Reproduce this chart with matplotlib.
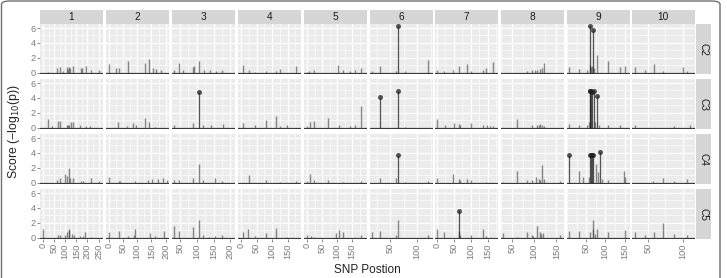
import matplotlib
matplotlib.use("Agg")
import matplotlib.pyplot as plt
from matplotlib.patches import FancyBboxPatch
import numpy as np

plt.rcParams['font.family'] = ['Liberation Sans', 'DejaVu Sans']

# ---------------- data ----------------
columns = ["1", "2", "3", "4", "5", "6", "7", "8", "9", "10"]
rows = ["C2", "C3", "C4", "C5"]
col_xlim = [(-14, 268), (-10, 210), (26, 212), (-10, 192), (-10, 197),
            (13, 128), (-5, 178), (25, 166), (0, 163), (27, 117)]
col_xticks = [[0, 50, 100, 150, 200, 250], [0, 50, 100, 150, 200],
              [50, 100, 150, 200], [0, 50, 100, 150], [0, 50, 100, 150],
              [50, 100], [0, 50, 100, 150], [50, 100, 150], [50, 100, 150],
              [50, 100]]
y_ticks = [0, 2, 4, 6]
threshold = 3.5

# C2: (column index, position, score)
c2_col = [0]*14 + [1]*9 + [2]*10 + [3]*7 + [4]*8 + [5]*6 + [6]*9 + [7]*7 + [8]*13 + [9]*6
c2_pos = [20, 62, 74, 90, 108, 112, 116, 120, 135, 169, 177, 192, 218, 253,
          2, 25, 34, 66, 128, 142, 154, 165, 184,
          32, 48, 58, 88, 91, 107, 120, 139, 156, 176,
          6, 27, 45, 81, 114, 127, 179,
          -1, 8, 23, 103, 118, 144, 160, 180,
          16, 31, 61, 65, 78, 120,
          2, 22, 49, 64, 89, 101, 136, 145, 166,
          83, 95, 102, 107, 112, 117, 121,
          5, 32, 52, 59, 61, 63, 65, 67, 70, 77, 107, 139, 152,
          31, 46, 58, 71, 100, 106]
c2_score = [0.1, 0.6, 0.8, 0.15, 0.7, 0.5, 0.7, 0.6, 0.9, 0.6, 0.6, 0.9, 0.4, 0.4,
            1.2, 0.6, 0.6, 1.5, 1.3, 1.8, 0.6, 0.5, 0.4,
            0.3, 1.3, 0.4, 0.8, 0.9, 1.5, 0.3, 0.3, 0.2, 0.3,
            1.0, 0.3, 0.1, 0.25, 0.2, 0.5, 0.9,
            0.1, 0.2, 0.3, 1.0, 0.3, 0.2, 0.3, 0.6,
            0.2, 0.9, 0.2, 6.27, 0.2, 1.7,
            0.3, 0.2, 0.4, 0.9, 1.1, 0.2, 0.3, 0.6, 1.4,
            0.2, 0.3, 0.4, 0.3, 0.5, 0.6, 1.3,
            0.8, 0.5, 0.4, 1.0, 6.27, 0.8, 0.9, 5.8, 0.6, 2.35, 1.5, 0.8, 0.9,
            0.8, 0.3, 1.1, 0.2, 0.7, 0.2]

c3_col = [0]*12 + [1]*7 + [2]*6 + [3]*6 + [4]*8 + [5]*3 + [6]*10 + [7]*7 + [8]*14 + [9]*3
c3_pos = [20, 39, 65, 74, 108, 112, 116, 128, 135, 166, 192, 212,
          33, 63, 86, 95, 128, 142, 163,
          31, 88, 107, 118, 143, 179,
          7, 45, 81, 114, 127, 147,
          0, 10, 23, 71, 105, 144, 160, 180,
          31.5, 65, 78,
          2, 25, 51, 64, 69, 101, 137, 147, 155, 166,
          61, 95, 106, 110, 112, 117, 123,
          5, 32, 52, 58, 59, 61, 63, 66, 70, 72, 78, 84, 107, 139,
          31, 87, 111]
c3_score = [1.2, 0.2, 0.9, 0.9, 0.4, 0.3, 0.4, 0.8, 0.7, 0.3, 0.2, 0.2,
            0.7, 0.2, 0.6, 0.4, 1.3, 0.7, 0.1,
            0.4, 0.6, 4.84, 0.4, 0.3, 0.5,
            0.6, 0.3, 1.0, 1.5, 0.2, 0.3,
            0.2, 0.7, 0.9, 1.3, 0.4, 0.2, 0.3, 2.84,
            4.1, 4.9, 0.1,
            1.1, 0.3, 0.6, 0.5, 0.3, 0.6, 0.3, 0.3, 0.2, 0.2,
            1.2, 0.4, 0.3, 0.4, 0.5, 0.4, 0.2,
            0.5, 0.3, 0.4, 0.8, 4.9, 4.95, 4.9, 4.85, 4.9, 0.8, 4.2, 0.3, 0.3, 0.4,
            0.4, 0.2, 0.4]

c4_col = [0]*11 + [1]*9 + [2]*7 + [3]*4 + [4]*6 + [5]*5 + [6]*7 + [7]*10 + [8]*15 + [9]*4
c4_pos = [62, 74, 97, 108, 116, 123, 135, 169, 181, 214, 252,
          0, 34, 40, 93, 139, 151, 173, 189, 204,
          32, 48, 88, 107, 118, 155, 175,
          27, 81, 127, 179,
          0, 10, 23, 71, 118, 180,
          31.5, 61, 65, 78, 120,
          2, 49, 64, 69, 89, 101, 145,
          30, 61, 83, 95, 104, 110, 113, 117, 121, 159,
          5, 32, 43, 58, 60.5, 63, 66, 69, 76, 80, 85, 91, 107, 148, 152,
          57, 71, 87, 106]
c4_score = [0.4, 0.6, 1.2, 0.9, 2.0, 0.6, 0.6, 0.2, 0.2, 0.6, 0.2,
            0.8, 0.2, 0.2, 0.2, 0.3, 0.5, 0.5, 0.6, 0.3,
            0.3, 0.3, 0.6, 2.5, 0.3, 0.6, 0.2,
            1.0, 0.3, 0.1, 0.2,
            0.2, 1.2, 0.4, 0.4, 0.1, 0.2,
            0.6, 0.6, 3.73, 0.1, 0.2,
            0.6, 1.2, 0.5, 0.4, 0.5, 0.4, 0.1,
            0.1, 1.55, 0.4, 0.4, 0.7, 0.5, 0.4, 2.4, 0.5, 0.2,
            3.75, 1.6, 0.7, 0.7, 3.7, 3.7, 3.72, 3.7, 2.5, 1.4, 4.15, 0.5, 0.4, 1.5, 0.8,
            0.2, 0.6, 0.2, 0.5]

c5_col = [0]*13 + [1]*8 + [2]*8 + [3]*6 + [4]*7 + [5]*5 + [6]*8 + [7]*10 + [8]*9 + [9]*6
c5_pos = [0, 65, 74, 100, 107, 115, 119, 130, 138, 168, 180, 191, 214,
          0, 36, 67, 87, 93, 144, 164, 193,
          32, 48, 88, 107, 118, 137, 155, 175,
          7, 22, 45, 81, 114, 147,
          0, 14, 23, 95, 105, 118, 180,
          16, 31.5, 61, 65, 120,
          2, 22, 64, 66, 69, 101, 136, 145,
          30, 61, 83, 95, 98, 107, 112, 116, 120, 159,
          5, 32, 60, 67, 69, 74, 78, 107, 150,
          31, 46, 58, 71, 87, 106]
c5_score = [1.2, 0.3, 0.4, 0.3, 0.8, 1.2, 1.0, 0.5, 0.4, 0.2, 0.2, 0.7, 0.1,
            0.8, 0.9, 0.2, 0.3, 1.2, 0.6, 0.2, 0.9,
            1.6, 0.9, 1.4, 2.3, 0.3, 0.1, 0.2, 0.3,
            0.7, 1.2, 0.2, 0.6, 1.3, 0.1,
            0.4, 0.2, 0.1, 0.6, 1.0, 0.7, 0.3,
            0.7, 0.9, 0.4, 2.3, 0.4,
            1.1, 0.8, 3.64, 0.9, 0.3, 0.3, 1.1, 0.2,
            0.6, 0.1, 0.7, 0.3, 0.2, 1.5, 0.8, 0.5, 0.6, 0.3,
            0.9, 0.9, 0.8, 2.3, 1.2, 0.5, 1.1, 0.8, 1.0,
            0.8, 0.3, 0.7, 2.0, 0.5, 0.4]

row_data = [(c2_col, c2_pos, c2_score), (c3_col, c3_pos, c3_score),
            (c4_col, c4_pos, c4_score), (c5_col, c5_pos, c5_score)]

# ---------------- layout ----------------
W, H = 727, 278
fig = plt.figure(figsize=(W / 100, H / 100), dpi=100)

col_left = [40, 106, 172, 238, 304, 370, 435, 501, 567, 632]
panel_w = 62.5
row_top = [24, 79, 134, 189]
panel_h = 50
tick_col = '#7a7a7a'
fs_tick = 6.6

def fig_rect(x, y, w, h):
    return [x / W, 1 - (y + h) / H, w / W, h / H]

for r in range(4):
    cols_r, pos_r, sc_r = row_data[r]
    cols_r = np.array(cols_r); pos_r = np.array(pos_r, float); sc_r = np.array(sc_r, float)
    for c in range(10):
        ax = fig.add_axes(fig_rect(col_left[c], row_top[r], panel_w, panel_h))
        ax.set_facecolor('#EBEBEB')
        for s in ax.spines.values():
            s.set_visible(False)
        xl = col_xlim[c]
        ax.set_xlim(*xl)
        ax.set_ylim(-0.2, 6.55)
        xt = col_xticks[c]
        ax.set_xticks(xt)
        step = 50
        minors = [t for t in np.arange(-100, 400, step / 2) if xl[0] <= t <= xl[1] and t not in xt]
        ax.set_xticks(minors, minor=True)
        ax.set_yticks(y_ticks)
        ax.set_yticks([1, 3, 5], minor=True)
        ax.grid(which='major', color='white', lw=0.9)
        ax.grid(which='minor', color='white', lw=0.45)
        ax.set_axisbelow(True)
        ax.tick_params(which='minor', length=0)
        ax.tick_params(which='major', length=2, width=0.6, color=tick_col,
                       labelcolor=tick_col, labelsize=fs_tick, pad=1)
        if r == 3:
            ax.set_xticklabels([str(t) for t in xt], rotation=90)
        else:
            ax.tick_params(axis='x', length=0, labelbottom=False)
        if c == 0:
            ax.set_yticklabels([str(t) for t in y_ticks])
        else:
            ax.tick_params(axis='y', length=0, labelleft=False)
        # baseline
        ax.axhline(0, color='#3a3a3a', lw=0.9, zorder=2)
        m = cols_r == c
        p = pos_r[m]; s = sc_r[m]
        low = s < threshold
        ax.vlines(p[low], 0, s[low], colors='#404040', lw=1.0, alpha=0.6, zorder=3)
        ax.vlines(p[~low], 0, s[~low], colors='#202020', lw=0.9, alpha=0.75, zorder=3)
        ax.plot(p[~low], s[~low], 'o', color='#202020', alpha=0.75, ms=3.6,
                mec='none', zorder=4)

# top strips
for c in range(10):
    sax = fig.add_axes(fig_rect(col_left[c], 10, panel_w, 14))
    sax.set_facecolor('#D6D6D6')
    sax.set_xticks([]); sax.set_yticks([])
    for s in sax.spines.values():
        s.set_visible(False)
    sax.text(0.5, 0.5, columns[c], ha='center', va='center', fontsize=7.3,
             color='#1a1a1a', transform=sax.transAxes)

# right strips
for r in range(4):
    sax = fig.add_axes(fig_rect(696, row_top[r], 15, panel_h))
    sax.set_facecolor('#D6D6D6')
    sax.set_xticks([]); sax.set_yticks([])
    for s in sax.spines.values():
        s.set_visible(False)
    sax.text(0.5, 0.5, rows[r], ha='center', va='center', fontsize=7.3,
             color='#1a1a1a', rotation=270, transform=sax.transAxes)

# axis labels
fig.text(14 / W, 1 - 132 / H, 'Score (\u2212log$_{10}$(p))', rotation=90,
         ha='center', va='center', fontsize=8.8, color='#222222')
fig.text(367 / W, 1 - 270 / H, 'SNP Postion', ha='center', va='center',
         fontsize=8.5, color='#222222')

# outer rounded frame
frame = FancyBboxPatch((1.5 / W, -10 / H), 718.5 / W, (H + 9) / H,
                       boxstyle='round,pad=0,rounding_size=0.012',
                       transform=fig.transFigure, fill=False,
                       ec='#707070', lw=1.0, clip_on=False)
fig.patches.append(frame)

fig.savefig('out.png', dpi=100)
